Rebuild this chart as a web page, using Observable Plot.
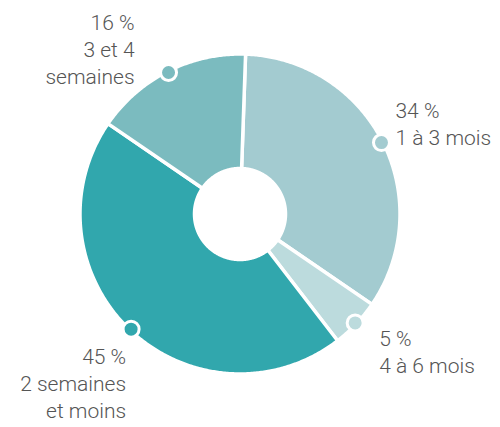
<!DOCTYPE html>
<html>
<head>
<meta charset="utf-8">
<script src="https://cdn.jsdelivr.net/npm/d3@7"></script>
<script src="https://cdn.jsdelivr.net/npm/@observablehq/plot@0.6"></script>
<style>
  html, body { margin: 0; padding: 0; background: #fff; }
  #chart svg { display: block; }
</style>
</head>
<body>
<div id="chart"></div>
<script>
// ---- data ----
const categories = ["1 à 3 mois", "4 à 6 mois", "2 semaines et moins", "3 et 4 semaines"];
const values = [34, 5, 45, 16];
const labels = ["34 %\n1 à 3 mois", "5 %\n4 à 6 mois", "45 %\n2 semaines\net moins", "16 %\n3 et 4\nsemaines"];

// ---- styles / layout ----
const colors = ["#a3cbd0", "#bcdbdd", "#31a7ad", "#7bbbbf"];
const W = 500, H = 427;
const cx = 239.5, cy = 213.5;      // pixel centre
const Rpx = 160;                   // outer radius (px) incl. white stroke
const innerRatio = 45.5 / 160;
const startDeg = 2;
// label offsets from the marker, in px: [dx, dy, anchor]
const labelLayout = [[14, -20, "start"], [24, 28, "start"], [-5, 53, "end"], [-34, -24, "end"]];

const total = d3.sum(values);
const rad = d => d * Math.PI / 180;
let acc = startDeg;
const slices = values.map((v, i) => {
  const a0 = acc, a1 = acc + v / total * 360;
  acc = a1;
  return {cat: categories[i], color: colors[i], a0, a1, mid: (a0 + a1) / 2, i};
});

const pts = [];
for (const s of slices) {
  const n = Math.max(4, Math.ceil((s.a1 - s.a0) * 2));
  const ring = [];
  for (let k = 0; k <= n; k++) {
    const a = rad(s.a0 + (s.a1 - s.a0) * k / n);
    ring.push({x: Math.sin(a), y: Math.cos(a)});
  }
  for (let k = n; k >= 0; k--) {
    const a = rad(s.a0 + (s.a1 - s.a0) * k / n);
    ring.push({x: innerRatio * Math.sin(a), y: innerRatio * Math.cos(a)});
  }
  ring.push(ring[0]);
  ring.forEach(p => pts.push({...p, cat: s.cat, color: s.color}));
}

const dotR = 158.5 / 160;
const dots = slices.map(s => ({x: dotR * Math.sin(rad(s.mid)), y: dotR * Math.cos(rad(s.mid)), color: s.color, cat: s.cat}));
const labelData = dots.map((d, i) => ({
  x: d.x + labelLayout[i][0] / Rpx,
  y: d.y - labelLayout[i][1] / Rpx,
  anchor: labelLayout[i][2],
  text: labels[i]
}));

const textOpts = {fontSize: 21, lineHeight: 1.29, fill: "#555", lineAnchor: "middle",
  fontFamily: "Roboto, 'Noto Sans', sans-serif", fontWeight: 300};

const chart = Plot.plot({
  width: W, height: H,
  margin: 0, marginTop: 0, marginRight: 0, marginBottom: 0, marginLeft: 0,
  style: {background: "#fff", overflow: "visible"},
  x: {domain: [-cx / Rpx, (W - cx) / Rpx], range: [0, W], axis: null},
  y: {domain: [-(H - cy) / Rpx, cy / Rpx], range: [H, 0], axis: null},
  color: {type: "identity"},
  marks: [
    Plot.line(pts, {x: "x", y: "y", z: "cat", fill: "color", stroke: "#fff", strokeWidth: 3.5, curve: "linear"}),
    Plot.dot(dots, {x: "x", y: "y", r: 8, fill: "color", stroke: "#fff", strokeWidth: 3}),
    Plot.text(labelData.filter(d => d.anchor === "start"), {x: "x", y: "y", text: "text", textAnchor: "start", ...textOpts}),
    Plot.text(labelData.filter(d => d.anchor === "end"), {x: "x", y: "y", text: "text", textAnchor: "end", ...textOpts})
  ]
});
document.getElementById("chart").appendChild(chart);
</script>
</body>
</html>
